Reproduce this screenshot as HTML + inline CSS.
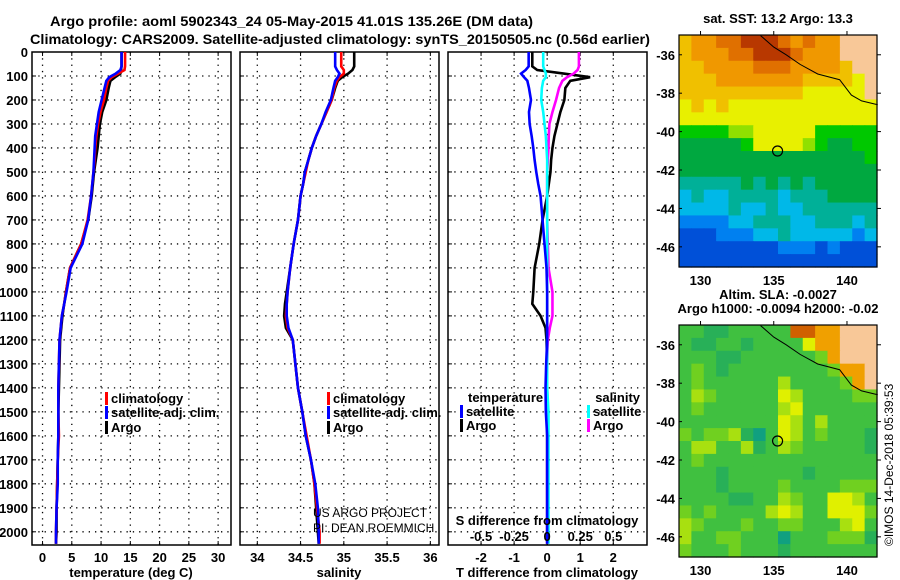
<!DOCTYPE html>
<html><head><meta charset="utf-8">
<style>
html,body{margin:0;padding:0;background:#fff;}
svg{display:block;font-family:"Liberation Sans",Arial,sans-serif;}
.b{font-weight:bold;}
</style></head>
<body>
<svg id="chart" width="900" height="580" viewBox="0 0 900 580"></svg>
<script>
// ---------- DATA ----------
const depths = [0,60,75,90,105,120,150,200,250,300,350,400,450,500,550,600,700,800,900,1000,1050,1100,1150,1200,1300,1400,1500,1600,1700,1800,1900,2000,2050];
const tempArgo = [13.5,13.5,13.4,13.3,12.4,11.6,11.3,10.9,10.2,9.8,9.6,9.4,9.1,8.8,8.6,8.4,7.8,6.6,4.7,4.0,3.7,3.4,3.2,3.0,2.9,2.8,2.7,2.7,2.6,2.5,2.4,2.4,2.3];
const tempClim = [14.1,14.1,14.0,12.9,11.8,11.2,10.9,10.5,9.9,9.5,9.2,9.0,8.9,8.7,8.5,8.3,7.7,6.6,4.7,4.0,3.7,3.3,3.1,2.9,2.8,2.7,2.7,2.8,2.6,2.5,2.4,2.3,2.3];
const tempSat = [13.5,13.5,13.3,12.5,11.4,10.9,10.6,10.1,9.6,9.3,9.0,8.9,8.8,8.7,8.5,8.3,7.8,6.8,4.8,4.1,3.7,3.3,3.1,2.9,2.8,2.7,2.7,2.7,2.6,2.6,2.4,2.3,2.3];
const salArgo = [35.12,35.12,35.1,35.05,34.98,34.93,34.9,34.86,34.8,34.74,34.68,34.63,34.59,34.55,34.53,34.5,34.47,34.42,34.38,34.34,34.32,34.31,34.33,34.41,34.44,34.47,34.52,34.56,34.62,34.66,34.68,34.70,34.71];
const salClim = [34.97,34.97,35.0,35.0,34.95,34.92,34.89,34.86,34.8,34.74,34.68,34.63,34.59,34.56,34.53,34.5,34.47,34.42,34.38,34.35,34.34,34.33,34.35,34.41,34.44,34.47,34.52,34.57,34.62,34.66,34.69,34.72,34.72];
const salSat = [34.9,34.9,34.92,34.95,34.93,34.9,34.88,34.85,34.79,34.74,34.68,34.63,34.59,34.55,34.53,34.5,34.47,34.42,34.38,34.35,34.34,34.34,34.36,34.41,34.44,34.47,34.52,34.56,34.62,34.67,34.70,34.71,34.71];
const dTArgo = [-0.45,-0.45,-0.3,0.5,1.3,0.7,0.55,0.52,0.4,0.31,0.22,0.16,0.12,0.1,0.05,0,-0.14,-0.24,-0.38,-0.42,-0.45,-0.2,-0.05,-0.02,0,0,0,0,0,0,0,0,0];
const dTSat = [-0.56,-0.56,-0.65,-0.79,-0.7,-0.6,-0.55,-0.49,-0.55,-0.53,-0.47,-0.42,-0.38,-0.33,-0.27,-0.2,-0.14,-0.08,-0.02,0,0,0,0,0,-0.03,-0.05,-0.04,0,0,0,0,0,0];
const dSArgo = [0.24,0.24,0.23,0.2,0.15,0.115,0.09,0.067,0.04,0.017,0.012,0.01,0.005,0,0,0,0,0.005,0.01,0.04,0.04,0.04,0.02,0.005,0,0,0.005,0.005,0,0,0,0,0];
const dSSat = [-0.03,-0.03,-0.02,-0.01,-0.01,-0.03,-0.04,-0.045,-0.03,-0.02,-0.01,-0.005,0,0,0,0,0,0,0,0,0,0,0,0,0,0,0.01,0.01,0.01,0.01,0.01,0.01,0.01];
const depthTicks = [0,100,200,300,400,500,600,700,800,900,1000,1100,1200,1300,1400,1500,1600,1700,1800,1900,2000];
const tempTicks = [0,5,10,15,20,25,30];
const salTicks = [34,34.5,35,35.5,36];
const dTTicks = [-2,-1,0,1,2];
const dSTicks = [-0.5,-0.25,0,0.25,0.5];
const lonTicks = [130,135,140];
const latTicks = [-36,-38,-40,-42,-44,-46];
const sstRows = [
"899aabbba9a99LLL","8999aabbba999LLL","889999aaa99998LL","888999999988887L",
"888888888877777L","7878777777777777","7777777777777777","5555667777755555",
"4444457777654455","4444444444444445","4444444444444444","3333343434344444",
"2322333323334444","2222322322333333","1111223332233323","0001112232222212",
"0000000011101000","0000000000000000"];
const slaRows = [
"2211222227766LLL","2112212222566LLL","2221122222236LLL","232122222222366L",
"232222224222236L","2432222254222233","2322222245222222","2222222254242222",
"3233410254232221","2442241243222221","2322222222222222","2221222222122222",
"2221222232222333","2222112243225542","3232222454225553","4322232233222452",
"4223322202223331","3222322212222222"];
const coastLon = [134.1,135.0,135.85,136.8,138.0,139.5,140.3,141.0,142.1];
const coastLat = [-35.0,-35.6,-36.0,-36.5,-37.0,-37.3,-38.1,-38.4,-38.6];
const argoLon = 135.26, argoLat = -41.01;

// ---------- helpers ----------
const NS="http://www.w3.org/2000/svg";
const svg=document.getElementById('chart');
function mk(tag,attrs,parent){const e=document.createElementNS(NS,tag);for(const k in attrs)e.setAttribute(k,attrs[k]);(parent||svg).appendChild(e);return e;}
function txt(x,y,s,opt,parent){const e=mk('text',Object.assign({x:x,y:y,'font-size':12,fill:'#000'},opt||{}),parent);e.textContent=s;return e;}

const TOP=52, BOT=545, D0=0, D1=2055;
const yD = d => TOP+(d-D0)/(D1-D0)*(BOT-TOP);
const panels=[
 {name:'temperature-panel',x0:32,x1:231,v0:-1.8,v1:32.2},
 {name:'salinity-panel',x0:240,x1:439,v0:33.8,v1:36.1},
 {name:'difference-panel',x0:448,x1:647,v0:-3.0,v1:3.02}
];
function sx(p){return v=>p.x0+(v-p.v0)/(p.v1-p.v0)*(p.x1-p.x0);}

let t=txt(50,26,'Argo profile: aoml 5902343_24 05-May-2015 41.01S 135.26E (DM data)',{'class':'b','font-size':14,textLength:483,lengthAdjust:'spacingAndGlyphs'});

t=txt(30,44,'Climatology: CARS2009. Satellite-adjusted climatology: synTS_20150505.nc (0.56d earlier)',{'class':'b','font-size':14,textLength:620,lengthAdjust:'spacingAndGlyphs'});


panels.forEach((p,i)=>{
  const g=mk('g',{});
  
  
  p.g=g;
  const X=sx(p);
  const xt = i===0?tempTicks:(i===1?salTicks:dTTicks);
  depthTicks.forEach(d=>{
    if(d>0) mk('line',{x1:p.x0,x2:p.x1,y1:yD(d),y2:yD(d),stroke:'#000','stroke-width':1.3,'stroke-dasharray':'1.3 5'},g);
    mk('line',{x1:p.x0,x2:p.x0+4,y1:yD(d),y2:yD(d),stroke:'#000'},g);
  });
  xt.forEach(v=>{
    mk('line',{x1:X(v),x2:X(v),y1:TOP,y2:BOT,stroke:'#000','stroke-width':1.3,'stroke-dasharray':'1.3 5'},g);
    mk('line',{x1:X(v),x2:X(v),y1:BOT,y2:BOT-4,stroke:'#000'},g);
    mk('line',{x1:X(v),x2:X(v),y1:TOP,y2:TOP+4,stroke:'#000'},g);
    const l=txt(X(v),562,String(v),{'class':'b','font-size':13,'text-anchor':'middle'},g);
    
    
  });
  mk('rect',{x:p.x0,y:TOP,width:p.x1-p.x0,height:BOT-TOP,fill:'none',stroke:'#000','stroke-width':1.5},g);
});
depthTicks.forEach(d=>{
  const l=txt(28,yD(d)+5,String(d),{'class':'b','font-size':13,'text-anchor':'end'});
  
  
});
t=txt(131,577,'temperature (deg C)',{'class':'b','font-size':13,'text-anchor':'middle'});

t=txt(339,577,'salinity',{'class':'b','font-size':13,'text-anchor':'middle'});

t=txt(547,577,'T difference from climatology',{'class':'b','font-size':13,'text-anchor':'middle'});

t=txt(547,525,'S difference from climatology',{'class':'b','font-size':13,'text-anchor':'middle'});

const Xd=sx(panels[2]);
dSTicks.forEach(v=>{
  const l=txt(Xd(v*4),541,String(v),{'class':'b','font-size':13,'text-anchor':'middle'});
  
  
});

function series(p,arr,scale,color,name){
  const X=sx(p);
  const pts=arr.map((v,k)=>X(v*scale)+','+yD(depths[k])).join(' ');
  const e=mk('polyline',{points:pts,fill:'none',stroke:color,'stroke-width':2.6,'stroke-linejoin':'miter'},p.g);
  
  
}
series(panels[0],tempArgo,1,'#000','temp-argo-line');
series(panels[0],tempClim,1,'#f00','temp-climatology-line');
series(panels[0],tempSat,1,'#00f','temp-satellite-line');
series(panels[1],salArgo,1,'#000','sal-argo-line');
series(panels[1],salClim,1,'#f00','sal-climatology-line');
series(panels[1],salSat,1,'#00f','sal-satellite-line');
series(panels[2],dTArgo,1,'#000','dt-argo-line');
series(panels[2],dSArgo,4,'#f0f','ds-argo-line');
series(panels[2],dSSat,4,'#0ff','ds-satellite-line');
series(panels[2],dTSat,1,'#00f','dt-satellite-line');

function legend(x,y,color,label,name,anchorEnd){
  const g=mk('g',{});
  
  
  mk('rect',{x:x,y:y-11,width:3,height:13,fill:color},g);
  txt(anchorEnd?x-3:x+6,y,label,{'class':'b','font-size':13,'text-anchor':anchorEnd?'end':'start'},g);
}
legend(105,403,'#f00','climatology','legend-climatology');
legend(105,417,'#00f','satellite-adj. clim.','legend-satellite-adj');
legend(105,432,'#000','Argo','legend-argo');
legend(327,403,'#f00','climatology','legend-sal-climatology');
legend(327,417,'#00f','satellite-adj. clim.','legend-sal-satellite-adj');
legend(327,432,'#000','Argo','legend-sal-argo');
t=txt(468,402,'temperature',{'class':'b','font-size':13});

legend(460,416,'#00f','satellite','legend-t-satellite');
legend(460,430,'#000','Argo','legend-t-argo');
t=txt(640,402,'salinity',{'class':'b','font-size':13,'text-anchor':'end'});

legend(587,416,'#0ff','satellite','legend-s-satellite');
legend(587,430,'#f0f','Argo','legend-s-argo');
t=txt(313,517,'US ARGO PROJECT',{'font-size':12});

t=txt(313,532,'PI: DEAN ROEMMICH',{'font-size':12});


// ---------- maps ----------
const sstColors={'0':'#0050d8','1':'#0080f0','2':'#00b8e8','3':'#00b098','4':'#00a840','5':'#00c800','6':'#90e000','7':'#e8f000','8':'#f0c000','9':'#f09800','a':'#e07000','b':'#b83800','L':'#f8c898'};
const slaColors={'0':'#10a080','1':'#28b058','2':'#40c040','3':'#70d020','4':'#a8e010','5':'#e0f000','6':'#f0a000','7':'#d06000','L':'#f8c898'};
function drawMap(y0,rows,colors,name,lines){
  const M={x0:679,x1:877,y0:y0,y1:y0+232,lon0:128.53,lon1:142.05,lat0:-34.97,lat1:-47.05};
  const X=lon=>M.x0+(lon-M.lon0)/(M.lon1-M.lon0)*(M.x1-M.x0);
  const Y=lat=>M.y0+(lat-M.lat0)/(M.lat1-M.lat0)*(M.y1-M.y0);
  const g=mk('g',{});
  
  
  const nr=rows.length, nc=rows[0].length;
  const cw=(M.x1-M.x0)/nc, ch=(M.y1-M.y0)/nr;
  rows.forEach((row,r)=>{
    for(let c=0;c<nc;c++){
      const cell=mk('rect',{x:M.x0+c*cw,y:M.y0+r*ch,width:cw+0.6,height:ch+0.6,fill:colors[row[c]]},g);
      
      
    }
  });
  const cl=mk('polyline',{points:coastLon.map((v,k)=>X(v)+','+Y(coastLat[k])).join(' '),fill:'none',stroke:'#000','stroke-width':1},g);
  
  
  const c=mk('circle',{cx:X(argoLon),cy:Y(argoLat),r:5,fill:'none',stroke:'#000','stroke-width':1.2},g);
  
  
  mk('rect',{x:M.x0,y:M.y0,width:M.x1-M.x0,height:M.y1-M.y0,fill:'none',stroke:'#000','stroke-width':1.2},g);
  lonTicks.forEach(v=>{
    mk('line',{x1:X(v),x2:X(v),y1:M.y0,y2:M.y0-4,stroke:'#000'},g);
    const l=txt(X(v),M.y1+18,String(v),{'class':'b','font-size':13,'text-anchor':'middle'},g);
    
    
  });
  latTicks.forEach(v=>{
    mk('line',{x1:M.x1,x2:M.x1+4,y1:Y(v),y2:Y(v),stroke:'#000'},g);
    mk('line',{x1:M.x0,x2:M.x0+3,y1:Y(v),y2:Y(v),stroke:'#000'},g);
    const l=txt(M.x0-4,Y(v)+5,String(v),{'class':'b','font-size':13,'text-anchor':'end'},g);
    
    
  });
  lines.forEach((s,k)=>{
    const l=txt(778,y0-14-(lines.length-1-k)*14+2,s,{'class':'b','font-size':13,'text-anchor':'middle'},g);
    
    
  });
}
drawMap(35,sstRows,sstColors,'sst-map',['sat. SST: 13.2 Argo: 13.3']);
drawMap(325,slaRows,slaColors,'sla-map',['Altim. SLA: -0.0027','Argo h1000: -0.0094 h2000: -0.02']);
t=txt(0,0,'\u00A9IMOS 14-Dec-2018 05:39:53',{'font-size':12,transform:'translate(893,546) rotate(-90)'});

</script>
</body></html>
